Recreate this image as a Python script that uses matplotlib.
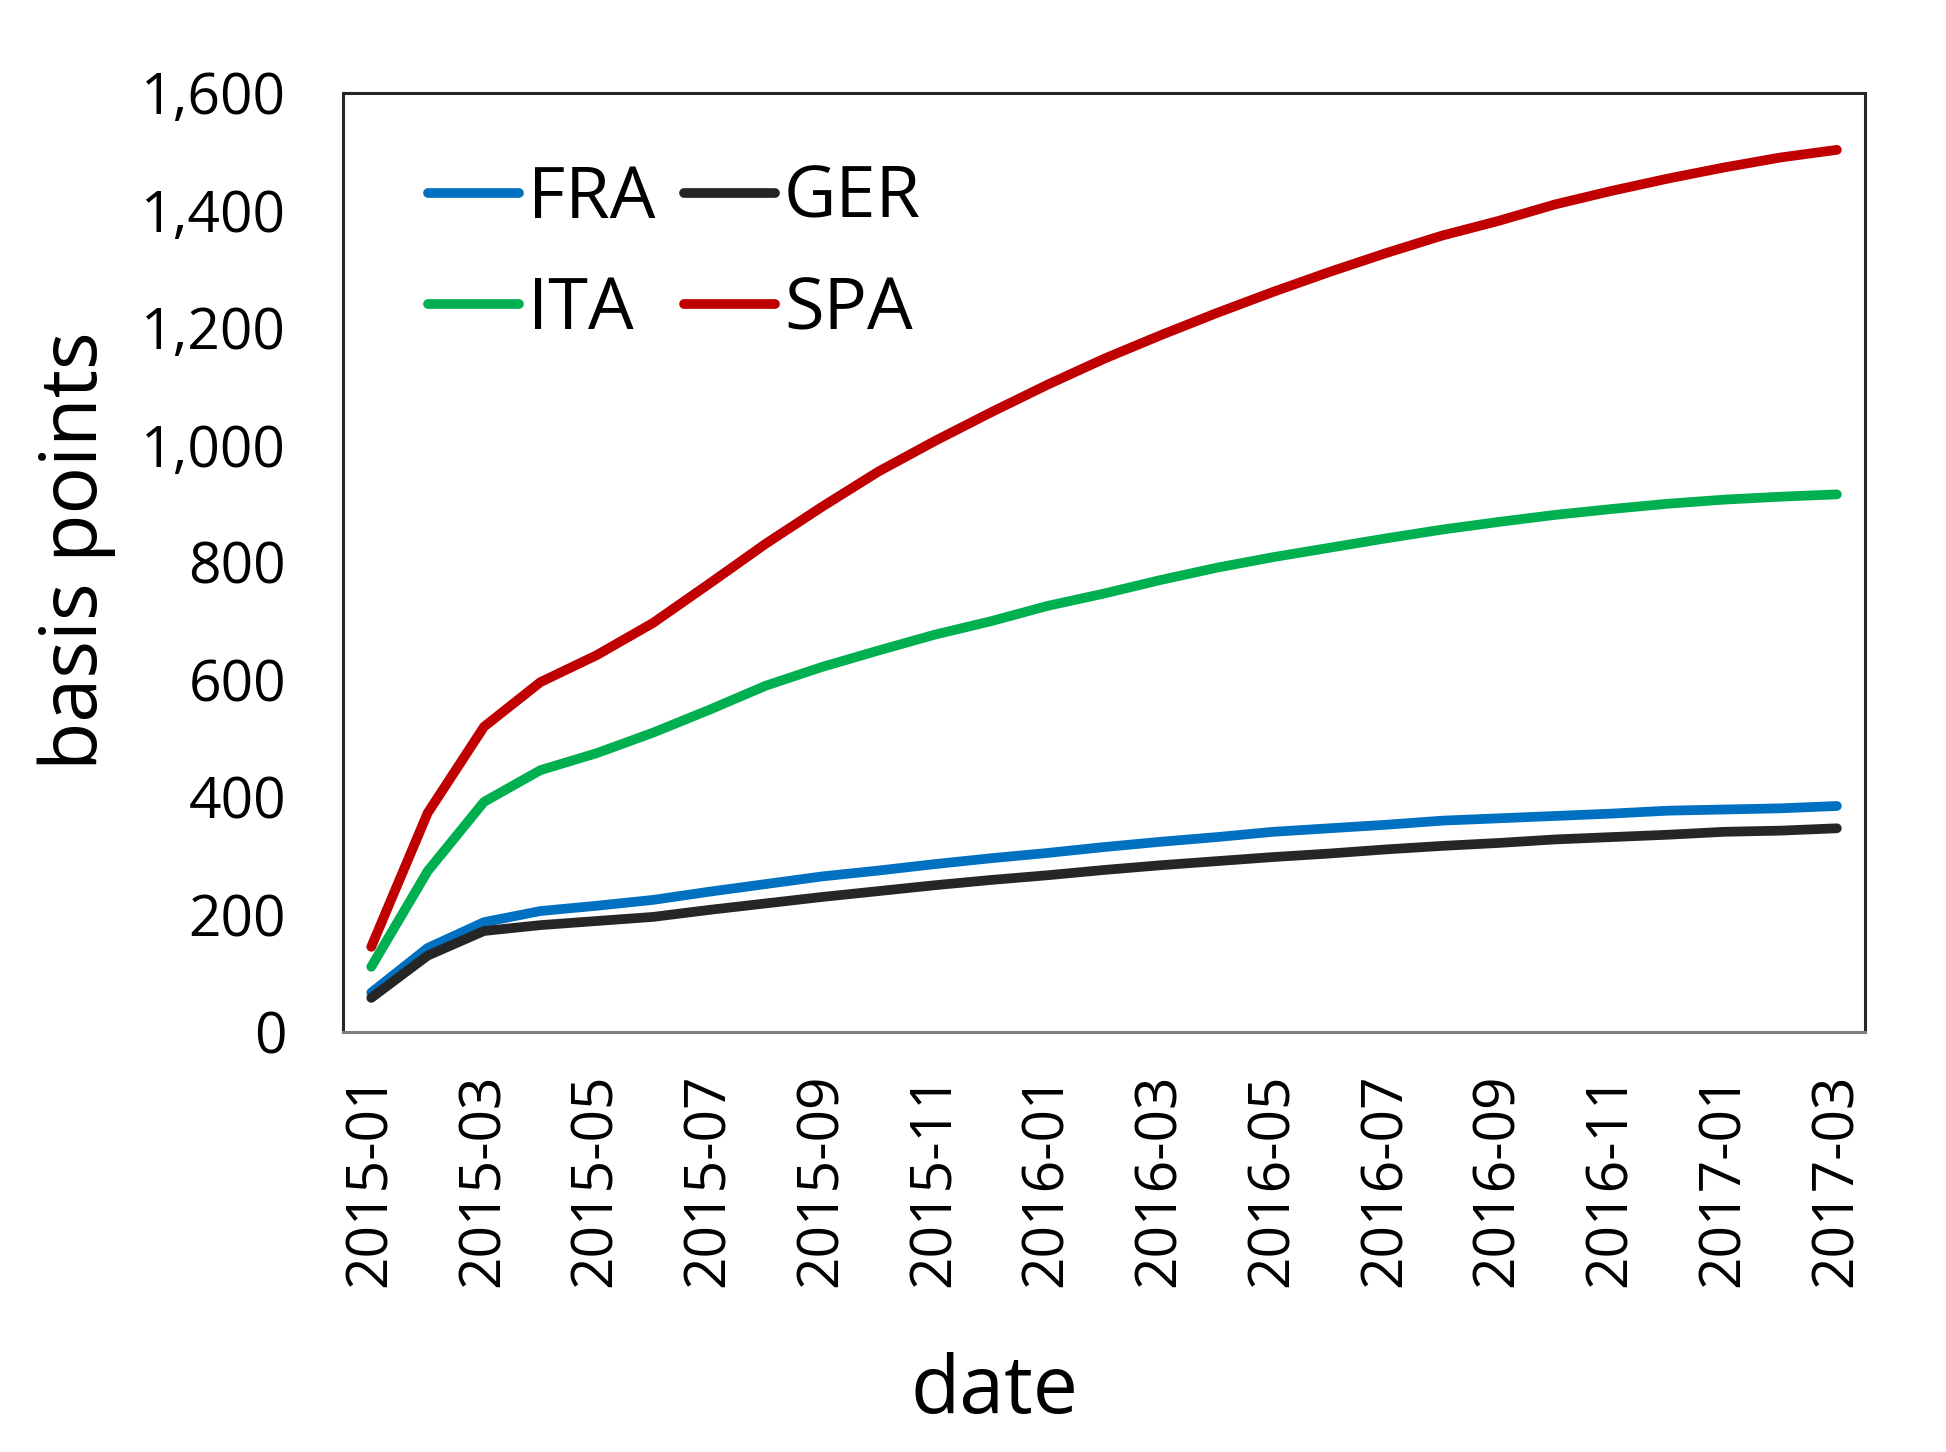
import matplotlib
matplotlib.use("Agg")
import matplotlib.pyplot as plt
from matplotlib.ticker import FuncFormatter

plt.rcParams['font.family'] = ['Open Sans', 'DejaVu Sans']

# monthly data, basis points
dates = ['2015-01', '2015-02', '2015-03', '2015-04', '2015-05', '2015-06',
         '2015-07', '2015-08', '2015-09', '2015-10', '2015-11', '2015-12',
         '2016-01', '2016-02', '2016-03', '2016-04', '2016-05', '2016-06',
         '2016-07', '2016-08', '2016-09', '2016-10', '2016-11', '2016-12',
         '2017-01', '2017-02', '2017-03']

fra = [67, 143, 187, 206, 215, 225, 239, 252, 265, 275, 286, 296,
       305, 315, 324, 332, 341, 347, 353, 360, 364, 368, 372, 377,
       379, 381, 385]
ger = [58, 130, 172, 182, 189, 196, 208, 219, 230, 240, 250, 259,
       267, 276, 284, 291, 298, 304, 311, 317, 322, 328, 332, 336,
       341, 343, 347]
ita = [111, 274, 392, 446, 475, 510, 549, 590, 622, 650, 677, 700,
       726, 747, 770, 791, 809, 825, 841, 856, 869, 881, 891, 900,
       907, 912, 916]
spa = [145, 373, 520, 596, 642, 697, 764, 832, 895, 955, 1007, 1056,
       1103, 1147, 1187, 1225, 1261, 1295, 1327, 1357, 1382, 1410, 1433, 1454,
       1473, 1490, 1503]

series = [('FRA', fra, '#0070C0'), ('GER', ger, '#262626'),
          ('ITA', ita, '#00B050'), ('SPA', spa, '#C00000')]

fig = plt.figure(figsize=(19.46, 14.52), dpi=100)
ax = fig.add_axes([0.1763, 0.2893, 0.9584 - 0.1763, 0.936 - 0.2893])

x = list(range(len(dates)))
lines = {}
for name, vals, col in series:
    lines[name], = ax.plot(x, vals, color=col, lw=7, solid_capstyle='round', label=name)

ax.set_xlim(-0.5, len(dates) - 0.5)
ax.set_ylim(0, 1600)
ax.set_yticks(range(0, 1601, 200))
ax.yaxis.set_major_formatter(FuncFormatter(lambda v, p: f'{v:,.0f}'))
ax.set_xticks(x[::2])
ax.set_xticklabels(dates[::2], rotation=90)
ax.tick_params(axis='y', length=0, pad=41, labelsize=41)
ax.tick_params(axis='x', length=0, pad=30, labelsize=41)

for s in ['left', 'top', 'right']:
    ax.spines[s].set_color('#262626')
    ax.spines[s].set_linewidth(2.2)
ax.spines['bottom'].set_color('#808080')
ax.spines['bottom'].set_linewidth(2.2)

order = ['FRA', 'ITA', 'GER', 'SPA']
ax.legend([lines[n] for n in order], order, ncol=2, loc='upper left',
          bbox_to_anchor=(0.056, 0.925), frameon=False, fontsize=52,
          handlelength=1.26, handletextpad=0.12, columnspacing=0.4,
          labelspacing=0.55, borderpad=0, borderaxespad=0)

fig.text(0.0395, 0.621, 'basis points', rotation=90, ha='center', va='center', fontsize=57)
fig.text(994 / 1946, 1 - 1413 / 1452, 'date', ha='center', va='baseline', fontsize=58)

fig.savefig('out.png', dpi=100)
